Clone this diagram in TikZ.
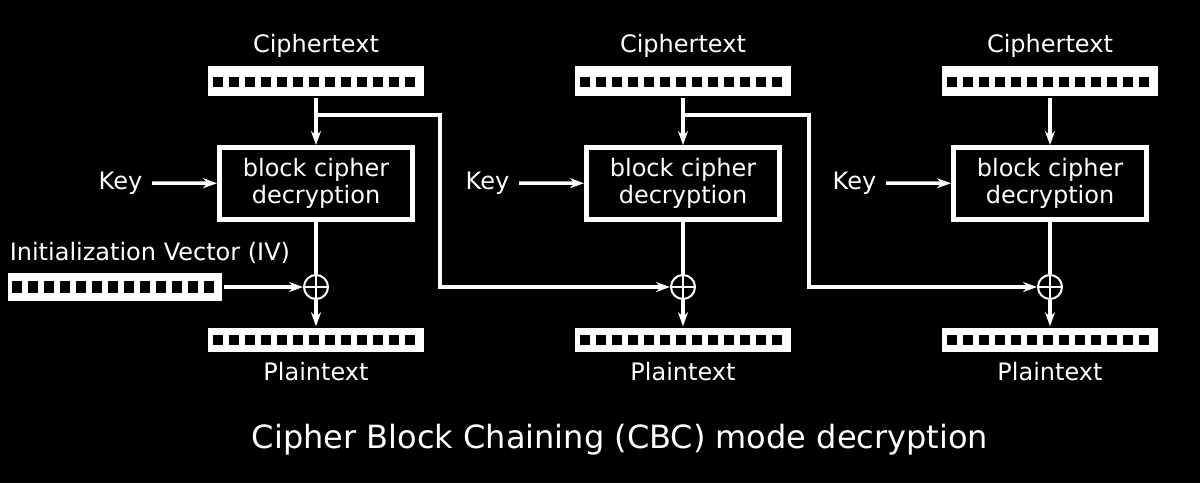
\documentclass[tikz,border=0pt]{standalone}
\usepackage{fontspec}
\setmainfont{DejaVu Sans}
\usetikzlibrary{positioning, arrows.meta}

\begin{document}
\begin{tikzpicture}[x=1pt, y=-1pt, white, line width=3.5pt,
    bar/.style={fill=white, minimum width=216pt, minimum height=24pt, inner sep=0pt},
    cipherbox/.style={draw, line width=5pt, minimum width=193pt, minimum height=72pt,
      align=center, font=\fontsize{24}{27}\selectfont},
    xorsym/.style={draw, circle, minimum size=24pt, inner sep=0pt, line width=2pt,
      path picture={\draw[line width=2pt] (path picture bounding box.north) -- (path picture bounding box.south)
        (path picture bounding box.west) -- (path picture bounding box.east);}},
    lbl/.style={font=\fontsize{24}{28}\selectfont, inner sep=0pt},
    flow/.style={-{Stealth[length=14pt, width=10pt]}}]
  \useasboundingbox (0,0) rectangle (1200,483);
  \fill[black] (0,0) rectangle (1200,483);

  % the three decryption stages
  \foreach \i/\x in {1/316, 2/683, 3/1050} {
    \node [lbl] (ctl\i) at (\x,46) {Ciphertext};
    \node [bar, minimum height=30pt] (ct\i) at (\x,81) {};
    \node [cipherbox] (box\i) at (\x,183.5) {block cipher\\decryption};
    \node [lbl, anchor=east] (key\i) at (\x-172,183) {Key};
    \node [xorsym] (xor\i) at (\x,287) {};
    \node [bar] (pt\i) at (\x,340) {};
    \node [lbl] (ptl\i) at (\x,372) {Plaintext};
    \foreach \k in {0,...,12} {
      \fill[black] ([xshift=7pt+16pt*\k, yshift=4pt]ct\i.west) rectangle ++(10,10);
      \fill[black] ([xshift=7pt+16pt*\k, yshift=5pt]pt\i.west) rectangle ++(10,10);
    }
    \draw [flow] (ct\i) -- (box\i);
    \draw [flow, shorten <=8pt] (key\i) -- (box\i);
    \draw (box\i) -- (xor\i.north);
    \draw [flow] (xor\i) -- (pt\i);
  }

  % initialization vector
  \node [lbl, anchor=west] (ivl) at (8,253) {Initialization Vector (IV)};
  \node [bar, minimum width=214pt, minimum height=28pt] (iv) at (115,287) {};
  \foreach \k in {0,...,12}
    \fill[black] ([xshift=6pt+16pt*\k, yshift=6pt]iv.west) rectangle ++(10,12);
  \draw [flow] (iv) -- (xor1);

  % chaining of the ciphertext blocks
  \coordinate (tap1) at (316,115);
  \coordinate (turn1) at (440,115);
  \coordinate (tap2) at (683,115);
  \coordinate (turn2) at (809,115);
  \draw [flow] (tap1) -- (turn1) |- (xor2);
  \draw [flow] (tap2) -- (turn2) |- (xor3);

  \node [font=\fontsize{32}{38}\selectfont] (title) at (620,440) {Cipher Block Chaining (CBC) mode decryption};
\end{tikzpicture}
\end{document}
